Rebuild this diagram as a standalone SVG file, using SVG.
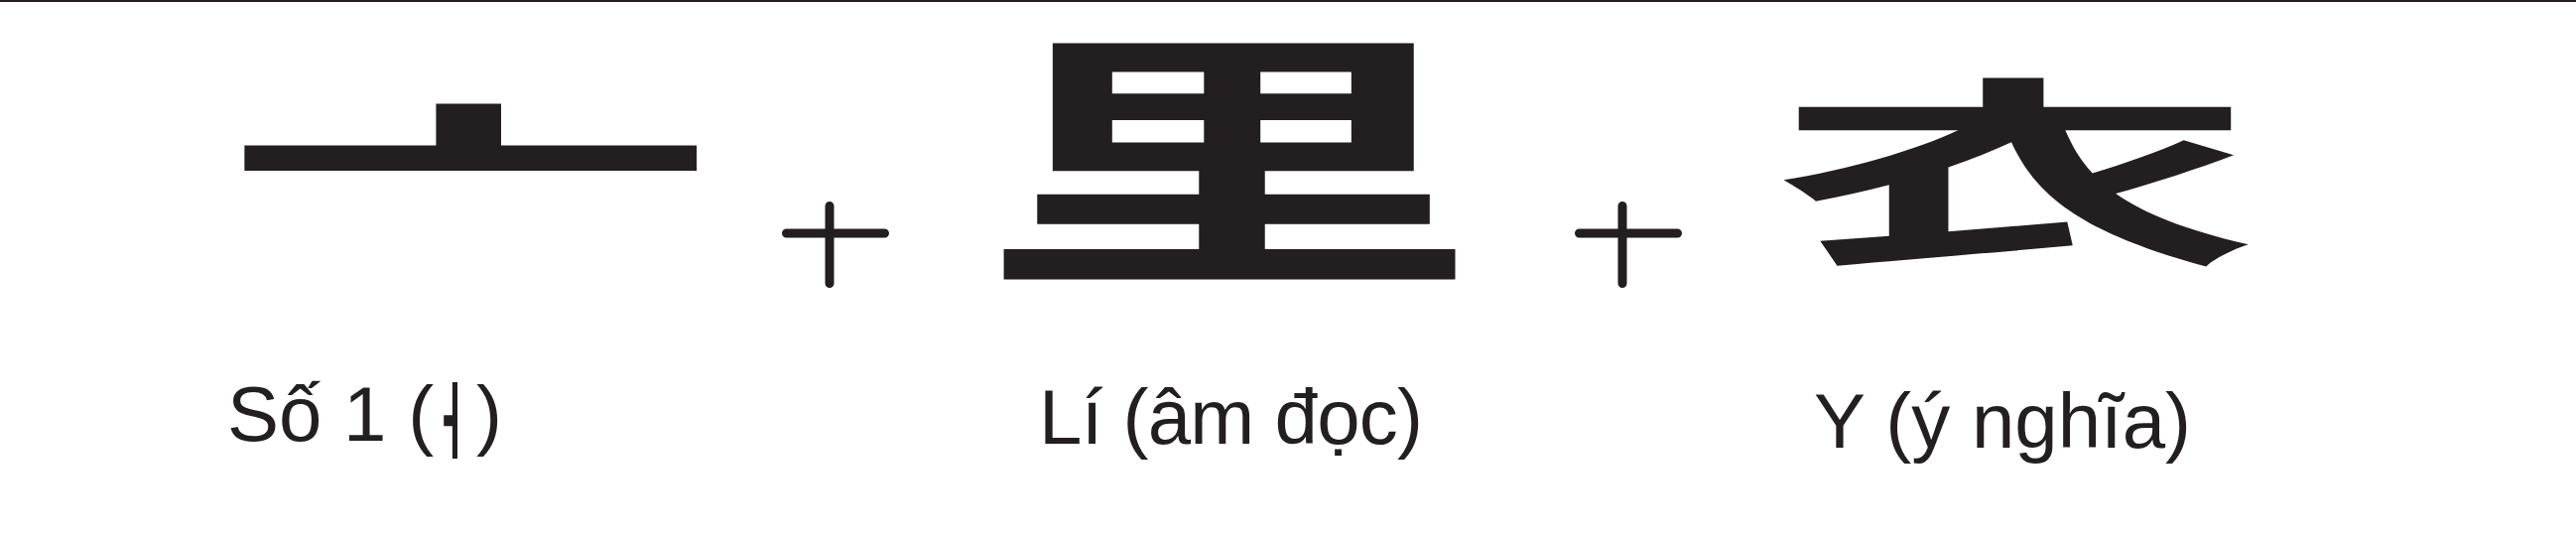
<svg xmlns="http://www.w3.org/2000/svg" width="2596" height="546" viewBox="0 0 2596 546">
  <style>
    .glyph { font-family: "Noto Sans CJK JP", "Noto Sans CJK SC", sans-serif; font-weight: 700; fill: #231f20; text-anchor: middle; }
    .label { font-family: "Liberation Sans", Arial, sans-serif; font-size: 78px; fill: #231f20; }
    .op { stroke: #231f20; stroke-width: 9; stroke-linecap: round; fill: none; }
  </style>
  <rect x="0" y="0" width="2596" height="546" fill="#ffffff"/>
  <rect x="0" y="0" width="2596" height="2" fill="#231f20"/>

  <g id="node-1">
    <text class="glyph" font-size="205" transform="translate(473.5,243) scale(2.44,1)">亠</text>
    <text class="label" x="229" y="444">Số 1 (<tspan x="480">)</tspan></text>
    <text class="glyph" font-size="205" transform="translate(475,423.5) rotate(-90) scale(0.412,0.2)">亠</text>
  </g>

  <g id="node-2">
    <text class="glyph" font-size="272" transform="translate(1238,265) scale(1.85,1)">里</text>
    <text class="label" x="1047" y="447" textLength="387" lengthAdjust="spacing">Lí (âm đọc)</text>
  </g>

  <g id="node-3">
    <text class="glyph" font-size="203" transform="translate(2030,251) scale(2.41,1)">衣</text>
    <text class="label" x="1828" y="451">Y (ý nghĩa)</text>
  </g>

  <g id="connectors">
    <path class="op" d="M792.5 235 H891.5 M836 207.5 V285.5"/>
    <path class="op" d="M1591.5 235 H1690.5 M1635 207.5 V285.5"/>
  </g>
</svg>
